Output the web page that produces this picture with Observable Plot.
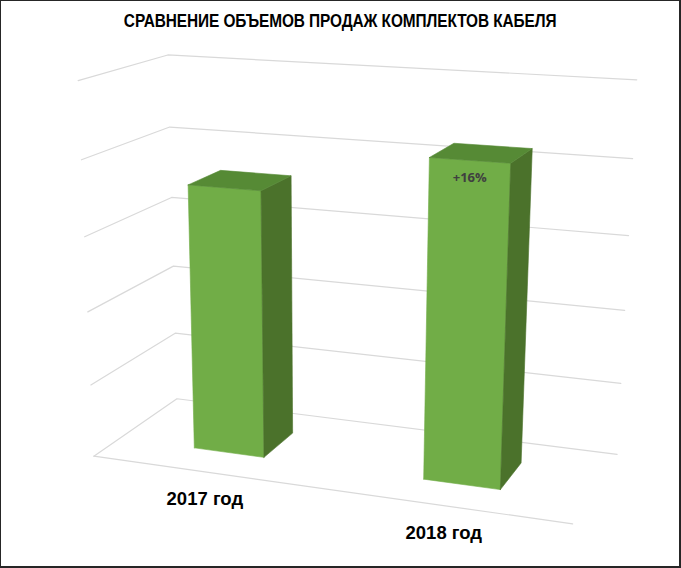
<!DOCTYPE html>
<html><head><meta charset="utf-8">
<script src="https://cdn.jsdelivr.net/npm/d3@7"></script>
<script src="https://cdn.jsdelivr.net/npm/@observablehq/plot@0.6"></script>
<style>
html,body{margin:0;padding:0;background:#fff;}
#chart{position:relative;width:681px;height:568px;box-sizing:border-box;border-style:solid;border-color:#262626;border-width:1px 2px 2px 1px;background:#fff;overflow:hidden;}
#title{height:39px;line-height:39px;text-align:center;font-family:"Liberation Sans","Arial",sans-serif;font-weight:bold;font-size:18.67px;color:#000;white-space:nowrap;}
#title span{display:inline-block;transform:scaleX(0.825);transform-origin:50% 50%;letter-spacing:-0.1px;}
#plot svg{display:block;}
</style></head><body>
<div id="chart"><div id="title"><span>СРАВНЕНИЕ ОБЪЕМОВ ПРОДАЖ КОМПЛЕКТОВ КАБЕЛЯ</span></div><div id="plot"></div></div>
<script>
// ---- data ----
const categories = ["2017 год", "2018 год"];
const values = [3.61, 4.19];
const changeLabels = ["", "+16%"];
const gridTicks = [0, 1, 2, 3, 4, 5];

// ---- 3D scene / camera (style) ----
const W = 678, H = 526;
const camera = {yaw: 20.93, pitch: 17.34, focal: 1760, cx: 324, cy: 317, offset: [-3.088, -1.316, 23.463]};
const scene = {width: 6.5, depth: 2.56, barSize: 1.02};
const colors = {front: "#71AD47", side: "#4B722B", top: "#568A35", grid: "#D9D9D9"};

const th = camera.yaw * Math.PI / 180, ph = -camera.pitch * Math.PI / 180;
const AX = [Math.cos(th), Math.sin(th) * Math.sin(ph), -Math.sin(th) * Math.cos(ph)];
const AY = [0, Math.cos(ph), Math.sin(ph)];
const AZ = [Math.sin(th), -Math.cos(th) * Math.sin(ph), Math.cos(th) * Math.cos(ph)];
function project([x, y, z]) {
  const c = [0, 1, 2].map(i => camera.offset[i] + x * AX[i] + y * AY[i] + z * AZ[i]);
  return {u: c[0] / c[2], v: c[1] / c[2]};
}

const catW = scene.width / categories.length;
const D = scene.depth, Wd = scene.width, b = scene.barSize;

// gridlines on the left wall and the back wall
const grid = gridTicks.flatMap(t =>
  [[0, t, 0], [0, t, D], [Wd, t, D]].map(p => ({key: t, ...project(p)})));
const floorEdge = [[0, 0, 0], [Wd, 0, 0]].map(p => project(p));

// bar faces
const faces = {front: [], side: [], top: []};
categories.forEach((c, i) => {
  const xc = (i + 0.5) * catW, h = values[i];
  const x0 = xc - b / 2, x1 = xc + b / 2, z0 = D / 2 - b / 2, z1 = D / 2 + b / 2;
  const add = (f, pts) => pts.forEach(p => faces[f].push({key: c, ...project(p)}));
  add("front", [[x0, 0, z0], [x1, 0, z0], [x1, h, z0], [x0, h, z0], [x0, 0, z0]]);
  add("side", [[x1, 0, z0], [x1, 0, z1], [x1, h, z1], [x1, h, z0], [x1, 0, z0]]);
  add("top", [[x0, h, z0], [x1, h, z0], [x1, h, z1], [x0, h, z1], [x0, h, z0]]);
});

const catLabels = categories.map((c, i) => ({text: c, ...project([(i + 0.5) * catW, 0, 0])}));
const valLabels = categories.map((c, i) => ({text: changeLabels[i], ...project([(i + 0.5) * catW, values[i], D / 2 - b / 2])}));

const faceMark = f => Plot.line(faces[f], {x: "u", y: "v", z: "key", fill: colors[f], stroke: colors[f], strokeWidth: 0.6, curve: "linear"});

const chart = Plot.plot({
  width: W, height: H, margin: 0,
  style: {background: "transparent", overflow: "visible"},
  x: {domain: [-camera.cx / camera.focal, (W - camera.cx) / camera.focal], axis: null},
  y: {domain: [(camera.cy - H) / camera.focal, camera.cy / camera.focal], axis: null},
  marks: [
    Plot.line(grid, {x: "u", y: "v", z: "key", stroke: colors.grid, strokeWidth: 1.2}),
    Plot.line(floorEdge, {x: "u", y: "v", stroke: colors.grid, strokeWidth: 1.2}),
    faceMark("front"), faceMark("side"), faceMark("top"),
    Plot.text(catLabels, {x: "u", y: "v", text: "text", dy: 27, fontSize: 18.5, fontWeight: "bold", fontFamily: "Liberation Sans, Arial, sans-serif", fill: "#000"}),
    Plot.text(valLabels, {x: "u", y: "v", text: "text", dy: 17, fontSize: 13, fontWeight: "bold", fontFamily: "'Open Sans', 'Noto Sans', sans-serif", fill: "#404040"})
  ]
});
document.getElementById("plot").append(chart);
</script>
</body></html>
